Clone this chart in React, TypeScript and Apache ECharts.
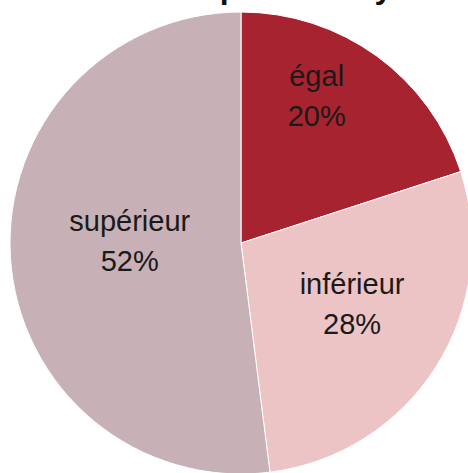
import React, { useEffect, useRef } from "react";
import * as echarts from "echarts";

const titleText = "Relation au parent moyen";
const categories = ["égal", "inférieur", "supérieur"];
const values = [20, 28, 52];
const colors = ["#A6232F", "#EDC4C5", "#C8B1B6"];
const labelOffsets: [number, number][] = [[6, -51], [11, -2], [7, -9]];

export default function App() {
  const ref = useRef<HTMLDivElement>(null);
  useEffect(() => {
    document.body.style.margin = "0";
    const chart = echarts.init(ref.current!, undefined, { renderer: "svg" });
    chart.setOption({
      animation: false,
      backgroundColor: "#ffffff",
      title: {
        text: titleText,
        left: "center",
        top: -34,
        textStyle: {
          fontFamily: "Liberation Sans",
          fontWeight: "bold",
          fontSize: 32,
          lineHeight: 32,
          color: "#111111",
        },
      },
      series: [
        {
          type: "pie",
          center: [241, 243],
          radius: [0, 231],
          startAngle: 90,
          clockwise: true,
          itemStyle: { borderColor: "#ffffff", borderWidth: 1 },
          label: {
            show: true,
            position: "inside",
            formatter: (p: any) => `${p.name}\n${p.value}%`,
            fontFamily: "Liberation Sans",
            fontSize: 29,
            lineHeight: 40,
            color: "#1a1a1a",
          },
          labelLine: { show: false },
          emphasis: { disabled: true },
          data: categories.map((name, i) => ({
            name,
            value: values[i],
            itemStyle: { color: colors[i] },
            label: { offset: labelOffsets[i] },
          })),
        },
      ],
    });
    return () => chart.dispose();
  }, []);
  return (
    <div
      ref={ref}
      style={{ position: "absolute", left: 0, top: 0, width: 468, height: 473 }}
    />
  );
}
